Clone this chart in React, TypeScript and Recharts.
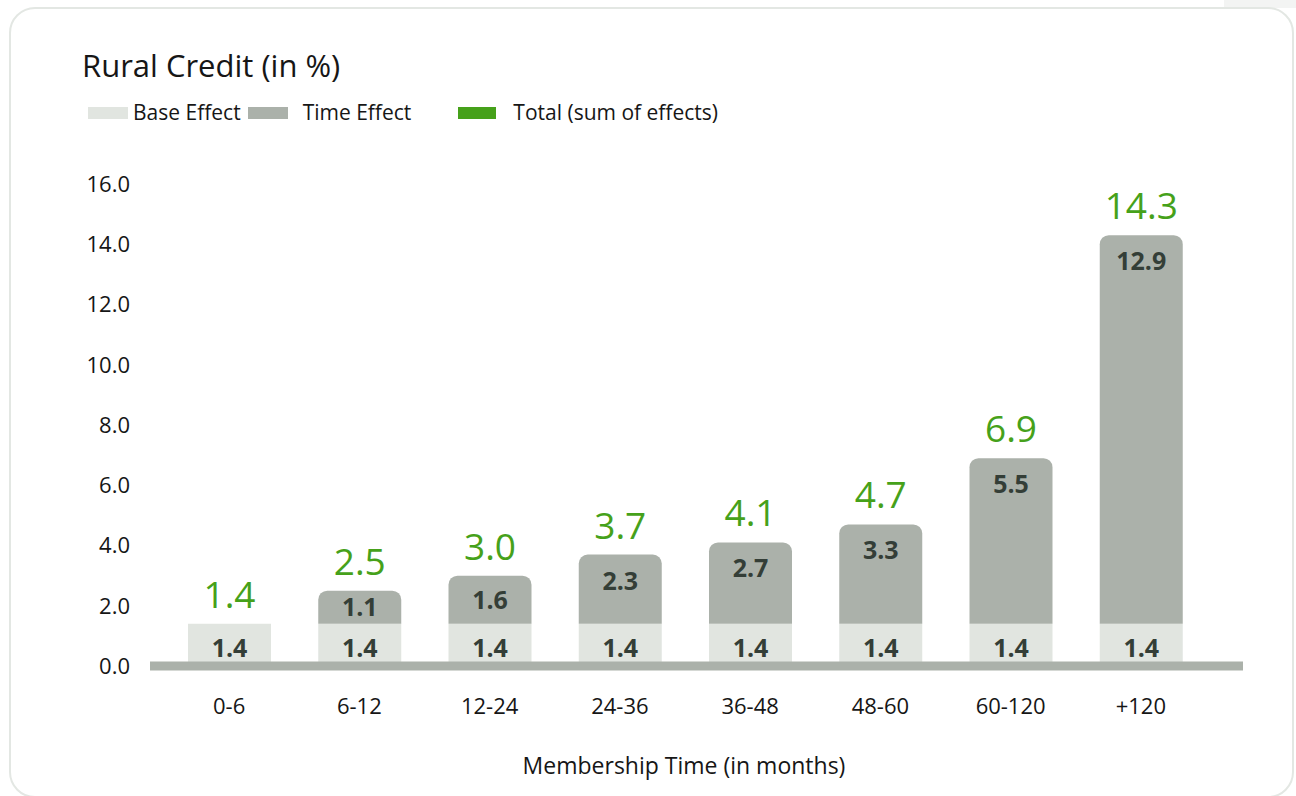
import React from 'react';
import { ComposedChart, Bar, XAxis, YAxis, LabelList } from 'recharts';

// Membership time buckets (months) and the effect components per bucket, in %
const categories = ['0-6', '6-12', '12-24', '24-36', '36-48', '48-60', '60-120', '+120'];
const baseEffect = [1.4, 1.4, 1.4, 1.4, 1.4, 1.4, 1.4, 1.4];
const timeEffect = [0, 1.1, 1.6, 2.3, 2.7, 3.3, 5.5, 12.9];
const totalEffect = [1.4, 2.5, 3.0, 3.7, 4.1, 4.7, 6.9, 14.3];
const yTicks = [0, 2, 4, 6, 8, 10, 12, 14, 16];
const legendLabels = ['Base Effect', 'Time Effect', 'Total (sum of effects)'];

const COLOR_BASE = '#e1e5e0';
const COLOR_TIME = '#abb1aa';
const COLOR_TOTAL = '#46a11a';
const COLOR_INNER = '#343e37';
const COLOR_TEXT = '#161616';
const FONT = '"Open Sans", "Noto Sans", sans-serif';

const data = categories.map((category, i) => ({
  category,
  base: baseEffect[i],
  time: timeEffect[i],
  total: totalEffect[i],
}));

// Total sits on the time segment, or on the base segment when there is no time effect
const totalOnTime = (d: any) => (d.time ? d.total : null);
const totalOnBase = (d: any) => (d.time ? null : d.total);

const InnerBaseLabel = (props: any) => {
  const { x, y, width, height, value } = props;
  if (value == null || !value) return null;
  const cy = y + height / 2 + 3;
  return (
    <text x={x + width / 2} y={cy + 9} textAnchor="middle" fontSize={25} fontWeight={700} fill={COLOR_INNER} fontFamily={FONT}>
      {Number(value).toFixed(1)}
    </text>
  );
};

const InnerTimeLabel = (props: any) => {
  const { x, y, width, height, value } = props;
  if (value == null || !value) return null;
  const cy = Math.min(y + 26, y + height / 2);
  return (
    <text x={x + width / 2} y={cy + 9} textAnchor="middle" fontSize={25} fontWeight={700} fill={COLOR_INNER} fontFamily={FONT}>
      {Number(value).toFixed(1)}
    </text>
  );
};

const TotalLabel = (props: any) => {
  const { x, y, width, value } = props;
  if (value == null || value === '') return null;
  return (
    <text x={x + width / 2} y={y - 16} textAnchor="middle" fontSize={37} fill={COLOR_TOTAL} fontFamily={FONT}>
      {Number(value).toFixed(1)}
    </text>
  );
};

const swatchColors = [COLOR_BASE, COLOR_TIME, COLOR_TOTAL];
const legendGaps = [
  { before: 0, swatch: 40, gapText: 5 },
  { before: 7, swatch: 40, gapText: 15 },
  { before: 47, swatch: 38, gapText: 17 },
];

export default function App() {
  return (
    <div
      style={{
        position: 'absolute',
        left: 0,
        top: 0,
        width: 1296,
        height: 796,
        overflow: 'hidden',
        background: '#ffffff',
        fontFamily: FONT,
      }}
    >
      <div style={{ position: 'absolute', left: 1224, top: 0, width: 72, height: 8, background: '#f3f4f3' }} />
      <div
        style={{
          position: 'absolute',
          left: 9,
          top: 7,
          width: 1285,
          height: 791,
          boxSizing: 'border-box',
          border: '2px solid #e3e7e3',
          borderRadius: 26,
          background: '#ffffff',
        }}
      />
      <div
        style={{
          position: 'absolute',
          left: 82,
          top: 50,
          fontSize: 31,
          lineHeight: '31px',
          color: COLOR_TEXT,
          whiteSpace: 'nowrap',
        }}
      >
        Rural Credit (in %)
      </div>
      <div
        style={{
          position: 'absolute',
          left: 88,
          top: 102,
          height: 21,
          display: 'flex',
          alignItems: 'center',
          fontSize: 21,
          lineHeight: '21px',
          color: COLOR_TEXT,
          whiteSpace: 'nowrap',
        }}
      >
        {legendLabels.map((label, i) => (
          <div key={label} style={{ display: 'flex', alignItems: 'center', marginLeft: legendGaps[i].before }}>
            <span
              style={{
                display: 'inline-block',
                width: legendGaps[i].swatch,
                height: 12,
                background: swatchColors[i],
                marginRight: legendGaps[i].gapText,
              }}
            />
            <span>{label}</span>
          </div>
        ))}
      </div>
      <div style={{ position: 'absolute', left: 0, top: 0 }}>
        <ComposedChart
          width={1296}
          height={796}
          data={data}
          margin={{ top: 184, right: 53, bottom: 30, left: 0 }}
          barCategoryGap={0}
        >
          <XAxis
            dataKey="category"
            height={100}
            padding={{ left: 14, right: 37 }}
            axisLine={{ stroke: COLOR_TIME, strokeWidth: 9 }}
            tickLine={false}
            tickSize={0}
            tickMargin={32}
            tick={{ fontSize: 22, fill: COLOR_TEXT, fontFamily: FONT }}
            interval={0}
          />
          <YAxis
            width={150}
            domain={[0, 16]}
            ticks={yTicks}
            axisLine={false}
            tickLine={false}
            tickSize={0}
            tickMargin={20}
            tick={{ fontSize: 22, fill: COLOR_TEXT, fontFamily: FONT }}
            tickFormatter={(v: number) => v.toFixed(1)}
            interval={0}
          />
          <Bar dataKey="base" stackId="effects" fill={COLOR_BASE} barSize={83} isAnimationActive={false}>
            <LabelList dataKey="base" content={InnerBaseLabel} />
            <LabelList dataKey={totalOnBase} content={TotalLabel} />
          </Bar>
          <Bar
            dataKey="time"
            stackId="effects"
            fill={COLOR_TIME}
            barSize={83}
            radius={[9, 9, 0, 0]}
            isAnimationActive={false}
          >
            <LabelList dataKey="time" content={InnerTimeLabel} />
            <LabelList dataKey={totalOnTime} content={TotalLabel} />
          </Bar>
        </ComposedChart>
      </div>
      <div
        style={{
          position: 'absolute',
          left: 384,
          top: 754,
          width: 600,
          textAlign: 'center',
          fontSize: 23,
          lineHeight: '23px',
          color: COLOR_TEXT,
          whiteSpace: 'nowrap',
        }}
      >
        Membership Time (in months)
      </div>
    </div>
  );
}
